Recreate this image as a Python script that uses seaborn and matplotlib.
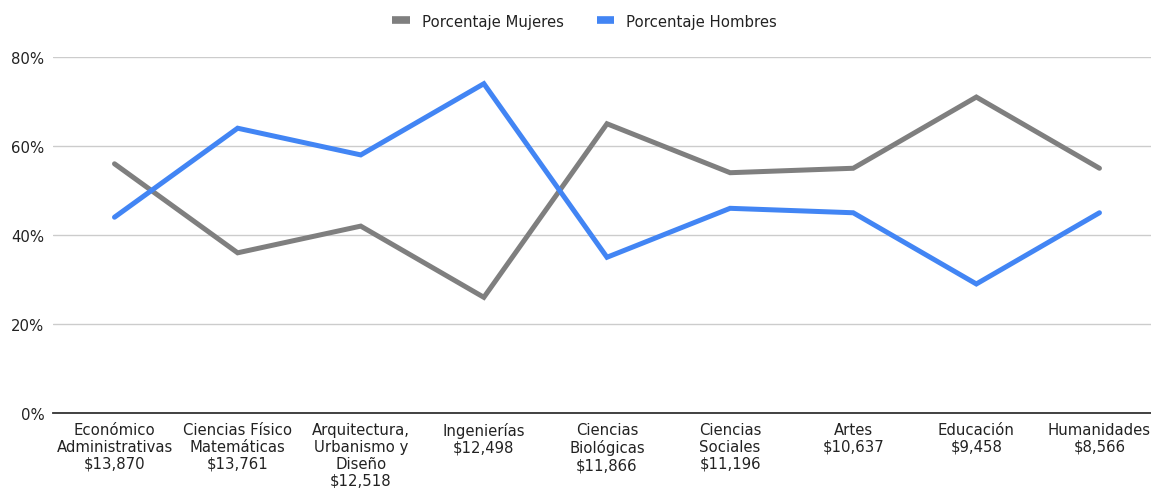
import matplotlib
matplotlib.use("Agg")
import matplotlib.pyplot as plt
import pandas as pd
import seaborn as sns
from matplotlib.lines import Line2D
from matplotlib.ticker import FuncFormatter

# Areas of study with the average salary shown beneath each name
areas = [
    "Económico\nAdministrativas",
    "Ciencias Físico\nMatemáticas",
    "Arquitectura,\nUrbanismo y\nDiseño",
    "Ingenierías",
    "Ciencias\nBiológicas",
    "Ciencias\nSociales",
    "Artes",
    "Educación",
    "Humanidades",
]
salarios = ["$13,870", "$13,761", "$12,518", "$12,498", "$11,866",
            "$11,196", "$10,637", "$9,458", "$8,566"]

mujeres = [56, 36, 42, 26, 65, 54, 55, 71, 55]
hombres = [44, 64, 58, 74, 35, 46, 45, 29, 45]

series = ["Porcentaje Mujeres", "Porcentaje Hombres"]
colores = {"Porcentaje Mujeres": "#7f7f7f", "Porcentaje Hombres": "#4285f4"}

etiquetas = [f"{a}\n{s}" for a, s in zip(areas, salarios)]

df = pd.DataFrame({
    "area": etiquetas * 2,
    "valor": mujeres + hombres,
    "serie": [series[0]] * len(mujeres) + [series[1]] * len(hombres),
})

sns.set_theme(style="white")
plt.rcParams["font.family"] = ["DejaVu Sans"]

fs = 10.7
fig = plt.figure(figsize=(11.51, 4.89), dpi=100)
ax = fig.add_axes([0.046, 0.1533, 0.9627, 0.7281])

sns.lineplot(data=df, x="area", y="valor", hue="serie", hue_order=series,
             palette=colores, sort=False, linewidth=3.6, ax=ax,
             legend=False, solid_joinstyle="miter")

ax.set_xlim(-0.5, len(areas) - 0.5)
ax.set_ylim(0, 80)
ax.set_yticks([0, 20, 40, 60, 80])
ax.yaxis.set_major_formatter(FuncFormatter(lambda v, p: f"{v:.0f}%"))
ax.grid(axis="y", color="#cccccc", linewidth=1.0)
ax.grid(axis="x", visible=False)
ax.set_axisbelow(True)
ax.set_xlabel("")
ax.set_ylabel("")

for side in ["top", "right", "left"]:
    ax.spines[side].set_visible(False)
ax.spines["bottom"].set_color("#333333")
ax.spines["bottom"].set_linewidth(1.3)

ax.tick_params(axis="x", length=0, pad=6.5, labelsize=fs, colors="#222222")
ax.tick_params(axis="y", length=0, pad=6, labelsize=fs, colors="#222222")
for lab in ax.get_xticklabels():
    lab.set_ha("center")
    lab.set_multialignment("center")
    lab.set_linespacing(1.16)

handles = [Line2D([], [], color=colores[s], linewidth=5.5, solid_capstyle="butt")
           for s in series]
fig.legend(handles, series, loc="center", bbox_to_anchor=(0.508, 0.955),
           ncol=2, frameon=False, fontsize=fs, handlelength=1.2,
           handletextpad=0.8, columnspacing=2.2, labelcolor="#222222")

fig.savefig("out.png", dpi=100)
